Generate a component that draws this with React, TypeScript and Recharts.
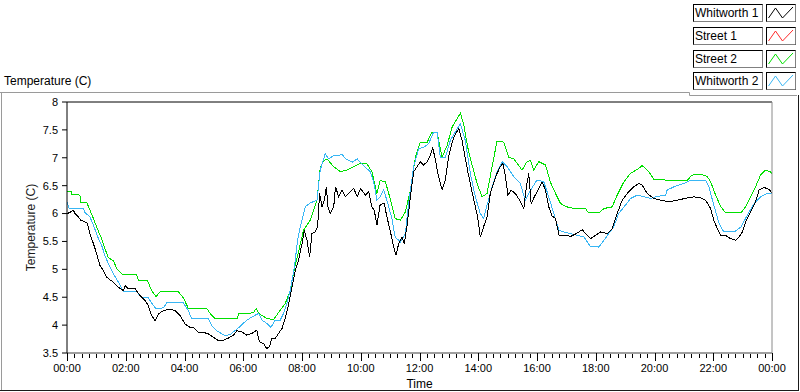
import React from 'react';
import { LineChart, Line, XAxis, YAxis, Label } from 'recharts';

// ---- Data (hours since midnight, temperature °C) ----
const seriesNames = ['Whitworth 1', 'Street 1', 'Street 2', 'Whitworth 2'];
const seriesColors = ['#000000', '#ff2a2a', '#00e000', '#38b6f4'];

const w1Hours = [0, 0.1, 0.22, 0.27, 0.39, 0.47, 0.61, 0.69, 0.78, 0.9, 1.01, 1.12, 1.24, 1.35, 1.47, 1.58, 1.75, 1.92, 1.98, 2.09, 2.32, 2.49, 2.66, 2.77, 2.88, 3.0, 3.11, 3.28, 3.51, 3.68, 3.85, 4.02, 4.19, 4.3, 4.47, 4.65, 4.82, 4.99, 5.16, 5.33, 5.5, 5.67, 5.78, 5.95, 6.12, 6.29, 6.46, 6.55, 6.69, 6.8, 6.89, 6.97, 7.09, 7.2, 7.32, 7.43, 7.54, 7.66, 7.77, 7.88, 8.0, 8.08, 8.17, 8.26, 8.34, 8.45, 8.53, 8.6, 8.68, 8.76, 8.83, 8.88, 8.96, 9.08, 9.14, 9.25, 9.36, 9.48, 9.59, 9.76, 9.88, 9.99, 10.16, 10.27, 10.38, 10.46, 10.55, 10.66, 10.8, 10.89, 11.0, 11.12, 11.2, 11.29, 11.4, 11.48, 11.57, 11.69, 11.8, 11.92, 12.03, 12.14, 12.26, 12.37, 12.45, 12.54, 12.65, 12.77, 12.88, 12.99, 13.11, 13.22, 13.34, 13.45, 13.56, 13.68, 13.85, 13.98, 14.07, 14.18, 14.3, 14.41, 14.52, 14.64, 14.75, 14.84, 14.92, 15.01, 15.12, 15.26, 15.41, 15.55, 15.64, 15.72, 15.8, 15.91, 16.06, 16.17, 16.29, 16.4, 16.51, 16.63, 16.75, 16.97, 17.15, 17.37, 17.54, 17.65, 17.82, 17.99, 18.16, 18.39, 18.56, 18.73, 18.9, 19.07, 19.3, 19.47, 19.58, 19.75, 19.98, 20.21, 20.49, 20.77, 21.12, 21.34, 21.57, 21.74, 21.91, 22.02, 22.14, 22.26, 22.42, 22.59, 22.76, 22.88, 22.99, 23.1, 23.27, 23.44, 23.56, 23.73, 23.9, 24.0];
const w1Temps = [6.0, 6.02, 6.06, 6.0, 5.94, 5.88, 5.85, 5.83, 5.64, 5.46, 5.28, 5.07, 4.98, 4.86, 4.81, 4.77, 4.68, 4.62, 4.71, 4.65, 4.65, 4.53, 4.44, 4.35, 4.17, 4.08, 4.2, 4.26, 4.29, 4.26, 4.17, 4.02, 3.96, 3.96, 3.87, 3.87, 3.84, 3.78, 3.72, 3.73, 3.77, 3.82, 3.9, 3.88, 3.82, 3.85, 3.91, 3.7, 3.67, 3.58, 3.61, 3.76, 3.76, 3.85, 3.94, 4.12, 4.36, 4.69, 4.98, 5.16, 5.46, 5.7, 5.52, 5.22, 5.64, 5.67, 5.76, 6.36, 6.12, 6.24, 6.48, 6.12, 6.0, 6.12, 6.48, 6.3, 6.42, 6.3, 6.36, 6.45, 6.3, 6.45, 6.33, 6.39, 6.12, 6.06, 5.79, 6.16, 6.18, 5.94, 5.7, 5.4, 5.25, 5.46, 5.58, 5.46, 5.76, 6.3, 6.75, 6.84, 6.93, 6.87, 6.93, 7.04, 7.19, 6.96, 6.66, 6.43, 6.6, 7.01, 7.28, 7.43, 7.52, 7.31, 6.98, 6.66, 6.24, 5.94, 5.58, 5.76, 5.94, 6.36, 6.54, 6.72, 6.84, 6.9, 6.69, 6.33, 6.42, 6.36, 6.24, 6.09, 6.48, 6.72, 6.18, 6.3, 6.45, 6.57, 6.42, 6.12, 5.96, 5.91, 5.61, 5.61, 5.59, 5.65, 5.71, 5.64, 5.55, 5.61, 5.67, 5.64, 5.73, 6.0, 6.24, 6.36, 6.48, 6.54, 6.51, 6.36, 6.27, 6.24, 6.21, 6.24, 6.28, 6.3, 6.28, 6.24, 6.09, 5.88, 5.73, 5.61, 5.61, 5.55, 5.52, 5.58, 5.67, 5.85, 6.03, 6.21, 6.42, 6.47, 6.43, 6.37];

const s1Hours: number[] = [];
const s1Temps: number[] = [];

const s2Hours = [0, 0.15, 0.16, 0.44, 0.46, 0.67, 0.76, 0.9, 1.03, 1.18, 1.29, 1.41, 1.58, 1.71, 1.9, 2.37, 2.43, 2.74, 2.88, 3.03, 3.17, 3.79, 3.96, 4.13, 4.76, 4.87, 5.05, 5.8, 5.84, 6.35, 6.44, 6.52, 6.8, 7.03, 7.14, 7.26, 7.43, 7.6, 7.74, 7.88, 8.05, 8.28, 8.51, 8.62, 8.74, 8.85, 9.08, 9.31, 9.53, 9.76, 9.99, 10.21, 10.38, 10.55, 10.66, 10.84, 11.0, 11.17, 11.35, 11.52, 11.69, 11.86, 12.03, 12.26, 12.43, 12.6, 12.77, 12.94, 13.11, 13.28, 13.39, 13.5, 13.64, 13.79, 13.96, 14.13, 14.3, 14.47, 14.64, 14.87, 15.04, 15.21, 15.49, 15.66, 15.78, 15.89, 16.06, 16.29, 16.46, 16.63, 16.8, 17.02, 17.25, 17.65, 17.76, 18.1, 18.28, 18.56, 18.73, 18.96, 19.18, 19.41, 19.58, 19.81, 19.98, 20.43, 21.12, 21.28, 21.45, 21.68, 21.8, 21.91, 22.08, 22.26, 22.42, 22.94, 23.1, 23.27, 23.44, 23.61, 23.78, 23.95, 24.0];
const s2Temps = [6.4, 6.4, 6.35, 6.33, 6.2, 6.2, 6.09, 5.91, 5.73, 5.55, 5.37, 5.21, 5.15, 5.0, 4.9, 4.9, 4.8, 4.8, 4.62, 4.51, 4.6, 4.6, 4.49, 4.3, 4.3, 4.21, 4.11, 4.11, 4.2, 4.22, 4.3, 4.21, 4.12, 4.1, 4.18, 4.27, 4.39, 4.62, 5.01, 5.31, 5.7, 5.88, 6.24, 6.81, 6.95, 6.98, 6.84, 6.75, 6.78, 6.84, 6.9, 6.89, 6.75, 6.36, 6.59, 6.57, 6.27, 5.91, 5.88, 6.03, 6.42, 7.01, 7.28, 7.28, 7.46, 7.46, 7.01, 7.22, 7.55, 7.7, 7.8, 7.61, 7.19, 6.87, 6.54, 6.3, 6.36, 6.84, 7.3, 7.28, 7.01, 6.98, 6.78, 6.93, 6.95, 6.78, 6.93, 6.87, 6.56, 6.36, 6.18, 6.12, 6.09, 6.09, 6.01, 6.01, 6.09, 6.12, 6.33, 6.57, 6.72, 6.79, 6.86, 6.75, 6.61, 6.6, 6.6, 6.69, 6.7, 6.69, 6.66, 6.57, 6.33, 6.12, 6.01, 6.01, 6.12, 6.3, 6.48, 6.69, 6.78, 6.75, 6.71];

const w2Hours = [0, 0.08, 0.56, 0.61, 0.78, 0.9, 1.07, 1.18, 1.29, 1.41, 1.58, 1.75, 1.92, 2.37, 2.54, 2.77, 2.94, 3.05, 3.28, 3.4, 3.96, 4.13, 4.25, 4.82, 4.93, 5.1, 5.38, 5.55, 5.72, 5.9, 6.12, 6.35, 6.52, 6.64, 6.8, 6.94, 7.09, 7.26, 7.37, 7.49, 7.6, 7.74, 7.85, 7.94, 8.11, 8.28, 8.51, 8.62, 8.79, 8.91, 9.08, 9.25, 9.36, 9.48, 9.71, 9.88, 10.1, 10.32, 10.44, 10.55, 10.66, 10.78, 10.89, 11.06, 11.17, 11.35, 11.52, 11.63, 11.8, 11.97, 12.14, 12.31, 12.48, 12.6, 12.71, 12.88, 13.05, 13.28, 13.39, 13.56, 13.73, 13.9, 14.07, 14.18, 14.3, 14.47, 14.64, 14.81, 14.98, 15.21, 15.43, 15.6, 15.78, 16.0, 16.23, 16.4, 16.57, 16.75, 16.92, 17.15, 17.37, 17.6, 17.82, 18.1, 18.28, 18.44, 18.61, 18.78, 19.01, 19.18, 19.41, 19.64, 19.87, 20.03, 20.38, 20.43, 20.66, 21.0, 21.23, 21.74, 21.85, 22.02, 22.2, 22.36, 22.71, 22.94, 23.16, 23.39, 23.61, 23.84, 24.0];
const w2Temps = [6.2, 6.09, 6.09, 6.02, 5.94, 5.79, 5.55, 5.43, 5.25, 5.1, 4.92, 4.77, 4.6, 4.6, 4.5, 4.49, 4.35, 4.29, 4.31, 4.4, 4.4, 4.26, 4.11, 4.11, 3.99, 3.9, 3.81, 3.83, 3.9, 3.98, 4.09, 4.16, 4.21, 4.09, 4.03, 3.96, 4.09, 4.09, 4.21, 4.39, 4.62, 5.04, 5.52, 5.76, 6.12, 6.19, 6.24, 6.78, 7.07, 6.98, 7.04, 7.04, 7.07, 6.98, 6.92, 6.98, 6.86, 6.75, 6.57, 6.24, 6.3, 6.42, 6.24, 5.91, 5.58, 5.49, 5.64, 6.18, 6.84, 7.16, 7.19, 7.25, 7.46, 7.46, 7.01, 7.01, 7.31, 7.52, 7.61, 7.31, 6.72, 6.3, 6.0, 5.91, 6.15, 6.48, 6.75, 6.93, 6.84, 6.66, 6.54, 6.24, 6.42, 6.6, 6.57, 6.3, 6.0, 5.7, 5.67, 5.64, 5.61, 5.58, 5.41, 5.4, 5.52, 5.64, 5.76, 6.0, 6.15, 6.27, 6.33, 6.3, 6.27, 6.3, 6.33, 6.42, 6.48, 6.54, 6.6, 6.6, 6.48, 6.15, 5.82, 5.67, 5.67, 5.76, 5.97, 6.18, 6.3, 6.36, 6.36];

const yTicks = [3.5, 4, 4.5, 5, 5.5, 6, 6.5, 7, 7.5, 8];
const xMajorHours = [0, 2, 4, 6, 8, 10, 12, 14, 16, 18, 20, 22, 24];
const xTickLabels = ['00:00', '02:00', '04:00', '06:00', '08:00', '10:00', '12:00', '14:00', '16:00', '18:00', '20:00', '22:00', '00:00'];
const xMinorStep = 0.25;

const yTitle = 'Temperature (C)';
const xTitle = 'Time';

// ---- build tables for the library ----
const toRows = (hs: number[], vs: number[]) => hs.map((t, i) => ({ t, v: vs[i] }));
const seriesData = [toRows(w1Hours, w1Temps), toRows(s1Hours, s1Temps), toRows(s2Hours, s2Temps), toRows(w2Hours, w2Temps)];
const xAllTicks: number[] = [];
for (let i = 0; i <= 24 / xMinorStep; i++) xAllTicks.push(i * xMinorStep);
const drawOrder = [2, 3, 1, 0];

const FONT = '"Liberation Sans", Arial, sans-serif';

const XTick = (props: any) => {
  const { x, y, payload } = props;
  const v = payload.value as number;
  const idx = xMajorHours.findIndex((h) => Math.abs(h - v) < 1e-6);
  const major = idx >= 0;
  const xx = Math.round(x) + 0.5;
  return (
    <g>
      <line x1={xx} x2={xx} y1={y + (major ? 0 : 1)} y2={y + (major ? 8 : 5)} stroke="#000" strokeWidth={1} shapeRendering="crispEdges" />
      {major && (
        <text x={x} y={y + 19} textAnchor="middle" fontSize={11} fontFamily={FONT} fill="#000">
          {xTickLabels[idx]}
        </text>
      )}
    </g>
  );
};

const legendTop = (i: number) => 4 + i * 22.8;

export default function App() {
  return (
    <div style={{ position: 'absolute', left: 0, top: 0, width: 800, height: 392, background: '#fff', overflow: 'hidden' }}>
      <LineChart width={800} height={392} margin={{ top: 72, right: 0, bottom: 0, left: 0 }}>
        <XAxis
          xAxisId="bottom"
          dataKey="t"
          type="number"
          domain={[0, 24]}
          ticks={xAllTicks}
          interval={0}
          allowDataOverflow
          height={39}
          tickSize={0}
          tickMargin={0}
          tickLine={false}
          axisLine={{ stroke: '#404040' }}
          tick={<XTick />}
        >
          <Label
            content={(p: any) => {
              const vb = p.viewBox || {};
              return (
                <text x={vb.x + vb.width / 2} y={vb.y + 35} textAnchor="middle" fontSize={12} fontFamily={FONT} fill="#000">
                  {xTitle}
                </text>
              );
            }}
          />
        </XAxis>
        <XAxis xAxisId="top" orientation="top" dataKey="t" type="number" domain={[0, 24]} height={30} tick={false} tickLine={false} axisLine={{ stroke: '#000' }} />
        <YAxis
          yAxisId="left"
          domain={[3.5, 8]}
          ticks={yTicks}
          interval={0}
          width={67}
          tickSize={5}
          tickMargin={4}
          axisLine={{ stroke: '#000' }}
          tickLine={{ stroke: '#000' }}
          tick={{ fontSize: 11, fontFamily: FONT, fill: '#000' }}
        >
          <Label
            content={(p: any) => {
              const vb = p.viewBox || {};
              const cx = vb.x + 32;
              const cy = vb.y + vb.height / 2;
              return (
                <text x={cx} y={cy} transform={`rotate(-90 ${cx} ${cy})`} textAnchor="middle" dominantBaseline="middle" fontSize={12} fontFamily={FONT} fill="#1a1a1a">
                  {yTitle}
                </text>
              );
            }}
          />
        </YAxis>
        <YAxis yAxisId="right" orientation="right" domain={[3.5, 8]} width={28} tick={false} tickLine={false} axisLine={{ stroke: '#8a8a8a' }} />
        {drawOrder.map((i) => (
          <Line
            key={seriesNames[i]}
            name={seriesNames[i]}
            data={seriesData[i]}
            dataKey="v"
            xAxisId="bottom"
            yAxisId="left"
            type="linear"
            stroke={seriesColors[i]}
            strokeWidth={1}
            shapeRendering="crispEdges"
            dot={false}
            activeDot={false}
            isAnimationActive={false}
          />
        ))}
      </LineChart>

      {/* panel frame and top title */}
      <svg width={800} height={392} style={{ position: 'absolute', left: 0, top: 0, pointerEvents: 'none' }}>
        <polyline points="0,92.5 689.5,92.5 689.5,95.5 797,95.5" fill="none" stroke="#9a9a9a" strokeWidth={1} />
        <line x1={1.5} y1={92} x2={1.5} y2={390} stroke="#9a9a9a" strokeWidth={1} />
        <line x1={798.5} y1={95} x2={798.5} y2={391} stroke="#1a1a1a" strokeWidth={1} />
        <line x1={0} y1={390.5} x2={799} y2={390.5} stroke="#1a1a1a" strokeWidth={1} />
        <text x={4} y={85} fontSize={12} fontFamily={FONT} fill="#000">{yTitle}</text>
      </svg>

      {/* legend */}
      {seriesNames.map((name, i) => (
        <React.Fragment key={name}>
          <div
            style={{
              position: 'absolute', left: 693, top: legendTop(i), width: 70, height: 18, boxSizing: 'border-box',
              borderTop: '1px solid #000', borderLeft: '1px solid #000', borderRight: '1px solid #808080', borderBottom: '1px solid #808080',
              fontFamily: FONT, fontSize: 12, lineHeight: '16px', paddingLeft: 1, color: '#000', whiteSpace: 'nowrap', overflow: 'hidden', background: '#fff',
            }}
          >
            {name}
          </div>
          <svg width={30} height={19} style={{ position: 'absolute', left: 766, top: legendTop(i) }}>
            <rect x={0.5} y={0.5} width={29} height={17} fill="#fff" stroke="#000" strokeWidth={1} />
            <line x1={29.5} y1={0.5} x2={29.5} y2={17.5} stroke="#808080" />
            <line x1={0.5} y1={17.5} x2={29.5} y2={17.5} stroke="#808080" />
            <polyline points="2.5,14 9.5,4 16.5,14 27,3" fill="none" stroke={seriesColors[i]} strokeWidth={1} />
          </svg>
        </React.Fragment>
      ))}
    </div>
  );
}
